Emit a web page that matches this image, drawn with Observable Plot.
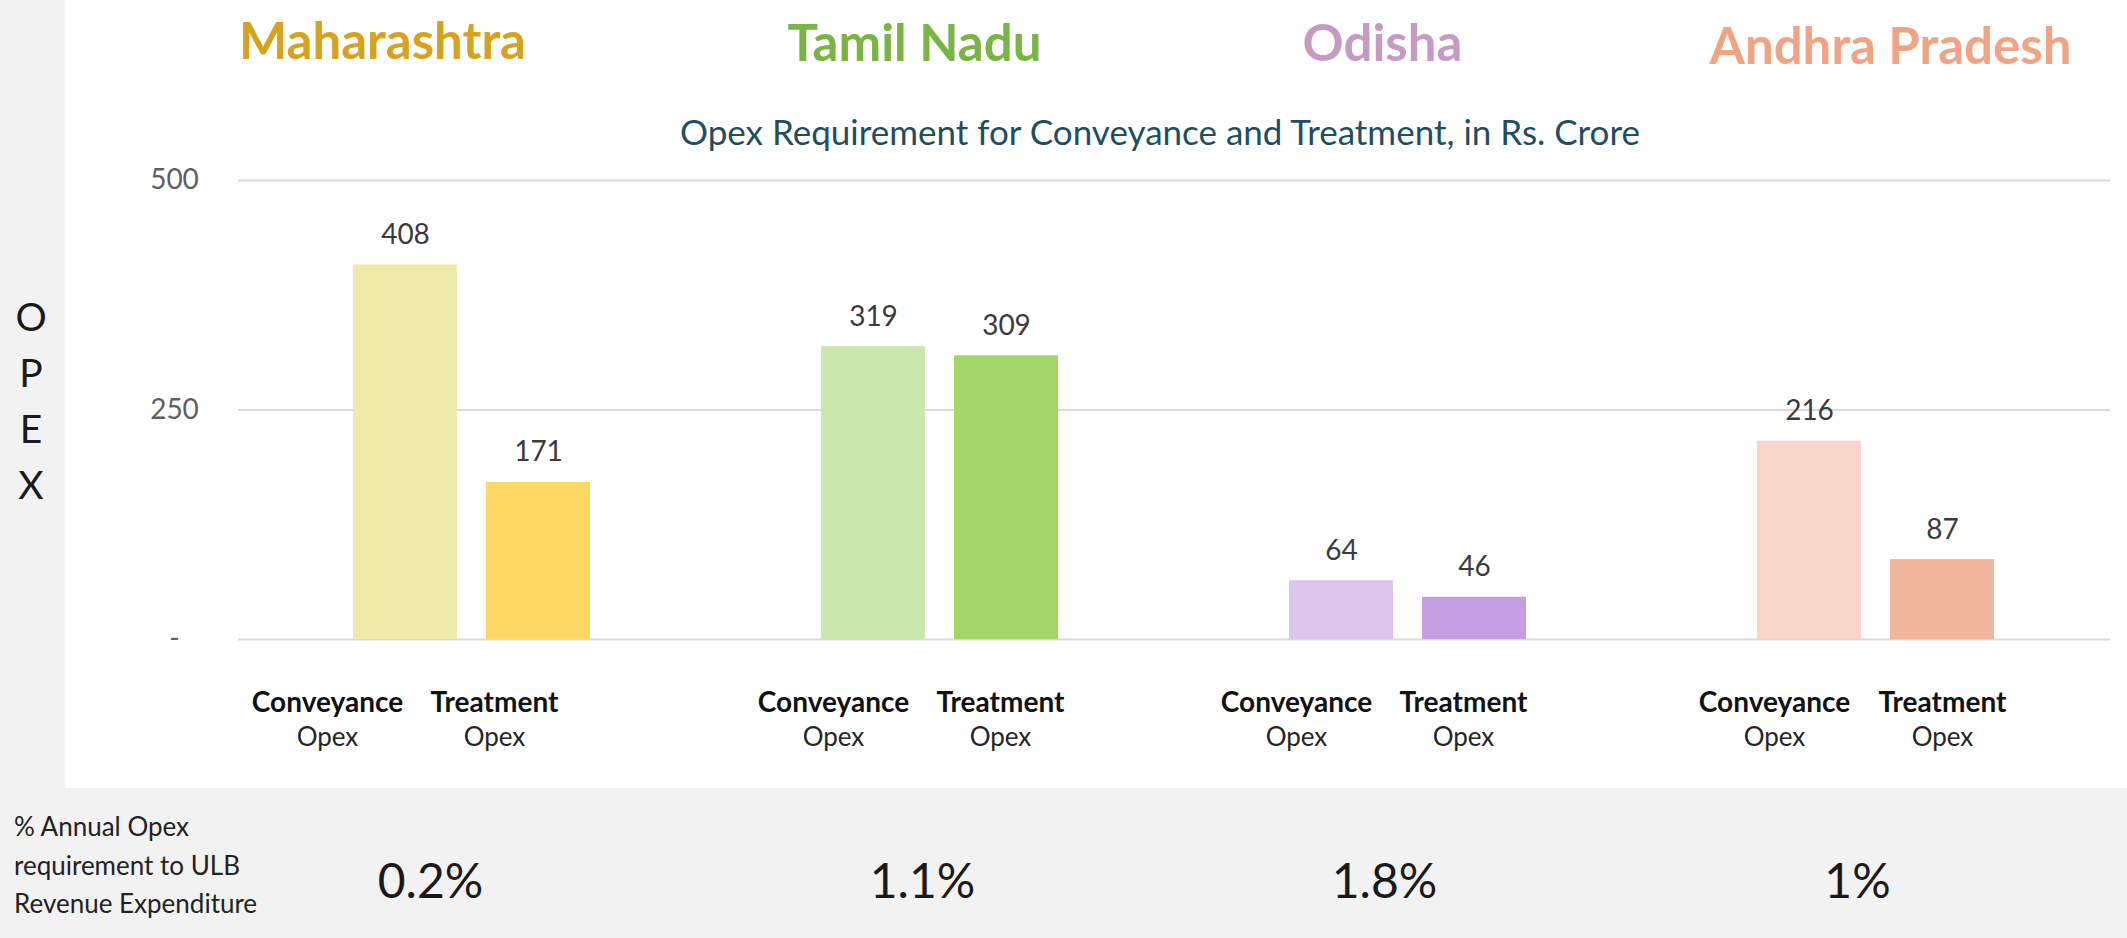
<!DOCTYPE html>
<html>
<head>
<meta charset="utf-8">
<script src="https://cdn.jsdelivr.net/npm/d3@7"></script>
<script src="https://cdn.jsdelivr.net/npm/@observablehq/plot@0.6"></script>
<style>
  html, body { margin: 0; padding: 0; background: #f2f2f2; }
  #page { position: relative; width: 2127px; height: 938px; background: #f2f2f2; overflow: hidden; font-family: Lato, "Open Sans", sans-serif; }
  #panel { position: absolute; left: 65px; top: 0; width: 2062px; height: 788px; background: #ffffff; }
  #chart { position: absolute; left: 0; top: 0; }
  #subtitle { position: absolute; left: 0; width: 2320px; top: 111px; text-align: center; font-size: 35px; color: #1f4e60; line-height: 40px; }
  #opex { position: absolute; left: 0; width: 62px; top: 288px; text-align: center; font-size: 39px; line-height: 56px; color: #1a1a1a; }
  #rowlabel { position: absolute; left: 14px; top: 807px; font-size: 26px; line-height: 38.5px; color: #222; }
</style>
</head>
<body>
<div id="page">
  <div id="panel"></div>
  <div id="chart"></div>
  <div id="subtitle">Opex Requirement for Conveyance and Treatment, in Rs. Crore</div>
  <div id="opex">O<br>P<br>E<br>X</div>
  <div id="rowlabel">% Annual Opex<br>requirement to ULB<br>Revenue Expenditure</div>
</div>
<script>
// ---- data ----
const states = ["Maharashtra", "Tamil Nadu", "Odisha", "Andhra Pradesh"];
const types = ["Conveyance", "Treatment"];
const conveyanceOpex = [408, 319, 64, 216];
const treatmentOpex = [171, 309, 46, 87];
const pctOfRevenue = ["0.2%", "1.1%", "1.8%", "1%"];
const yTicks = [0, 250, 500];

// ---- styles ----
const titleColors = ["#d6a31e", "#79b444", "#c59bc3", "#efa584"];
const conveyanceColors = ["#f0eba8", "#cbe7ad", "#dcc5ea", "#f7d6c9"];
const treatmentColors = ["#fdd763", "#a3d567", "#c49ee0", "#f2b59e"];
// layout offsets (px) of texts relative to their group / bar centres
const titleShift = [-90, -26, -26, 14];
const titleDy = [-122, -120, -120, -117];
const labelShift = [[-78, -40, -45, -35], [-44, -6, -11, 0]];
const pctShift = [-42, -18, -24, -19];

const rows = states.flatMap((s, i) => [
  {state: s, type: types[0], value: conveyanceOpex[i], color: conveyanceColors[i]},
  {state: s, type: types[1], value: treatmentOpex[i], color: treatmentColors[i]}
]);

const marks = [
  Plot.ruleY(yTicks, {stroke: "#d9d9d9", strokeWidth: 2}),
  Plot.axisY(yTicks, {
    tickSize: 0, tickPadding: 64, textAnchor: "middle", label: null,
    tickFormat: d => d === 0 ? "-" : String(d), fontSize: 28, fill: "#5f5f5f"
  }),
  Plot.barY(rows, {fx: "state", x: "type", y: "value", fill: "color"}),
  Plot.text(rows, {fx: "state", x: "type", y: "value", text: d => String(d.value),
    dy: -30, fontSize: 28, fill: "#3a3a3a", lineAnchor: "middle"})
];

states.forEach((s, i) => {
  // state title
  marks.push(Plot.text([s], {fx: d => d, text: d => d, frameAnchor: "top",
    dx: titleShift[i], dy: titleDy[i], lineAnchor: "bottom", fontSize: 51,
    fontWeight: "bold", fill: titleColors[i]}));
  // category labels
  types.forEach((t, j) => {
    const r = rows.filter(d => d.state === s && d.type === t);
    marks.push(Plot.text(r, {fx: "state", x: "type", text: "type", frameAnchor: "bottom",
      dx: labelShift[j][i], dy: 64, lineAnchor: "middle", fontSize: 28, fontWeight: "bold", fill: "#111"}));
    marks.push(Plot.text(r, {fx: "state", x: "type", text: () => "Opex", frameAnchor: "bottom",
      dx: labelShift[j][i], dy: 98, lineAnchor: "middle", fontSize: 26, fill: "#262626"}));
  });
  // percentage row
  marks.push(Plot.text([s], {fx: d => d, text: () => pctOfRevenue[i], frameAnchor: "bottom",
    dx: pctShift[i], dy: 243, lineAnchor: "middle", fontSize: 48, fill: "#1a1a1a"}));
});

const chart = Plot.plot({
  width: 2127,
  height: 938,
  marginLeft: 237,
  marginRight: 16,
  marginTop: 180,
  marginBottom: 299,
  style: {fontFamily: "Lato, 'Open Sans', sans-serif", background: "transparent", overflow: "visible"},
  fx: {domain: states, padding: 0, axis: null},
  x: {domain: types, paddingInner: 0.216, paddingOuter: 0.856, axis: null},
  y: {domain: [0, 500], axis: null},
  color: {type: "identity"},
  marks
});
document.getElementById("chart").appendChild(chart);
</script>
</body>
</html>
